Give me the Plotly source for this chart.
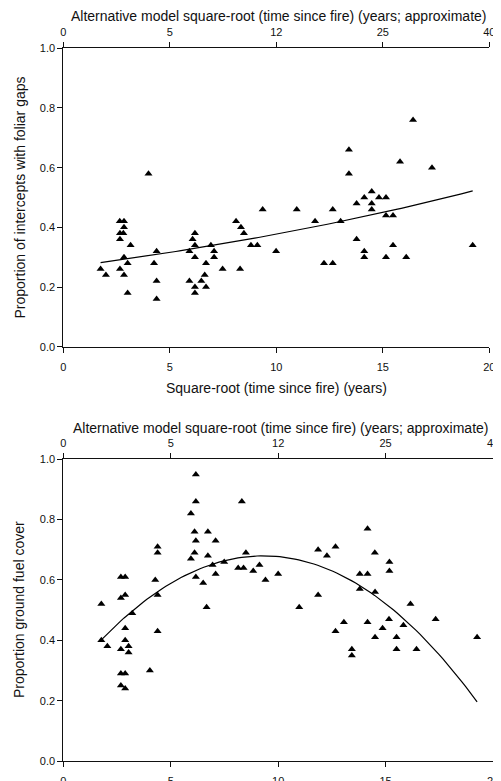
import numpy as np
import plotly.graph_objects as go

# ---------------- data ----------------
top_x = [4.0, 2.65, 2.85, 2.85, 2.66, 2.82, 2.66, 3.16, 2.85, 3.02, 1.75, 2.0, 2.66, 2.85, 3.02,
         4.38, 4.26, 4.38, 4.38, 6.18, 6.07, 6.18, 5.92, 6.18, 5.92, 6.18, 6.18, 6.48, 6.64, 6.70,
         6.70, 6.93, 7.08, 7.08, 7.48, 8.30, 8.11, 8.34, 8.48, 8.81, 9.11, 9.36, 9.99, 10.96, 11.82,
         12.24, 12.65, 12.65, 13.02, 13.41, 13.41, 13.77, 14.13, 14.48, 14.48, 14.48, 14.82, 15.15,
         15.15, 15.48, 13.77, 14.13, 14.13, 15.15, 15.48, 16.10, 15.81, 16.42, 17.31, 19.22]
top_y = [0.58, 0.42, 0.42, 0.40, 0.38, 0.38, 0.36, 0.34, 0.30, 0.28, 0.26, 0.24, 0.26, 0.24, 0.18,
         0.32, 0.28, 0.22, 0.16, 0.38, 0.36, 0.34, 0.32, 0.30, 0.22, 0.20, 0.18, 0.22, 0.24, 0.20,
         0.28, 0.34, 0.32, 0.30, 0.26, 0.26, 0.42, 0.40, 0.38, 0.34, 0.34, 0.46, 0.32, 0.46, 0.42,
         0.28, 0.28, 0.46, 0.42, 0.66, 0.58, 0.48, 0.50, 0.52, 0.48, 0.46, 0.50, 0.50,
         0.44, 0.44, 0.36, 0.32, 0.30, 0.30, 0.34, 0.30, 0.62, 0.76, 0.60, 0.34]

# top model: exponential curve y = exp(c0 + c1*x), drawn over observed x range
top_fit_c0 = -1.3285
top_fit_c1 = 0.0353
top_fit_range = [1.75, 19.22]

bot_x = [6.17, 6.17, 8.31, 5.94, 6.11, 6.73, 6.17, 7.09, 4.39, 4.39, 6.11, 5.94, 6.73, 8.50,
         6.95, 7.49, 8.14, 8.39, 8.84, 9.13, 9.41, 10.0, 7.09, 6.17, 6.51, 6.67, 2.68, 2.88,
         4.28, 2.88, 2.68, 4.39, 1.77, 3.21, 2.88, 4.39, 1.77, 2.88, 2.05, 3.04, 2.68, 3.04,
         2.68, 2.88, 2.68, 2.88, 4.03, 10.98, 11.86, 12.67, 13.06, 13.43, 13.43, 13.80, 14.16,
         14.51, 14.51, 14.86, 15.16, 15.51, 15.51, 15.83, 16.16, 16.44, 17.33, 19.26, 11.86,
         12.67, 12.27, 14.16, 13.80, 14.16, 14.50, 15.18, 15.18]
bot_y = [0.95, 0.86, 0.86, 0.82, 0.76, 0.76, 0.73, 0.73, 0.71, 0.69, 0.69, 0.67, 0.68, 0.69,
         0.65, 0.66, 0.64, 0.64, 0.63, 0.65, 0.60, 0.62, 0.62, 0.61, 0.59, 0.51, 0.61, 0.61,
         0.60, 0.55, 0.54, 0.55, 0.52, 0.49, 0.44, 0.43, 0.40, 0.40, 0.38, 0.38, 0.37, 0.36,
         0.29, 0.29, 0.25, 0.24, 0.30, 0.51, 0.55, 0.43, 0.46, 0.37, 0.35, 0.57, 0.46,
         0.56, 0.41, 0.44, 0.47, 0.41, 0.37, 0.45, 0.52, 0.37, 0.47, 0.41, 0.70,
         0.71, 0.68, 0.77, 0.62, 0.62, 0.69, 0.66, 0.63]

# bottom model: quadratic y = a*x^2 + b*x + c
bot_fit_a = -0.00489
bot_fit_b = 0.0911
bot_fit_c = 0.2556
bot_fit_range = [1.77, 19.26]

x_tickvals = [0, 5, 10, 15, 20]
x_ticktext = ["0", "5", "10", "15", "20"]
alt_ticktext = ["0", "5", "12", "25", "40"]
y_tickvals = [0.0, 0.2, 0.4, 0.6, 0.8, 1.0]

top_title = "Alternative model square-root (time since fire) (years; approximate)"
x_title = "Square-root (time since fire) (years)"
y1_title = "Proportion of intercepts with foliar gaps"
y2_title = "Proportion ground fuel cover"

# ---------------- figure ----------------
W, H = 501, 781
OFF = 8  # page body margin in the browser; target positions below are window pixels
# plot area in window pixels
AX_L, AX_R, AX_T, AX_B = 63, 493, 48, 761
ML, MT = AX_L - OFF, AX_T - OFF
MR, MB = W - (AX_R - OFF), H - (AX_B - OFF)
PW, PH = W - ML - MR, H - MT - MB
FONT = "Liberation Sans, Arial, sans-serif"
INK = "#111111"


def px_x(p):
    return (p - OFF - ML) / PW


def px_y(p):
    return (H - MB - (p - OFF)) / PH


def clamp(d):
    return [max(0.0, min(1.0, v)) for v in d]


fx1 = np.linspace(top_fit_range[0], top_fit_range[1], 100)
fy1 = np.exp(top_fit_c0 + top_fit_c1 * fx1)
fx2 = np.linspace(bot_fit_range[0], bot_fit_range[1], 100)
fy2 = bot_fit_a * fx2 ** 2 + bot_fit_b * fx2 + bot_fit_c

marker = dict(symbol="triangle-up", size=7, color="black", line=dict(width=0))

fig = go.Figure()
fig.add_trace(go.Scatter(x=top_x, y=top_y, mode="markers", marker=marker,
                         xaxis="x", yaxis="y", showlegend=False))
fig.add_trace(go.Scatter(x=fx1, y=fy1, mode="lines", line=dict(color="black", width=1.2),
                         xaxis="x", yaxis="y", showlegend=False))
fig.add_trace(go.Scatter(x=[None], y=[None], xaxis="x2", yaxis="y", showlegend=False,
                         hoverinfo="skip"))
fig.add_trace(go.Scatter(x=bot_x, y=bot_y, mode="markers", marker=marker,
                         xaxis="x3", yaxis="y2", showlegend=False))
fig.add_trace(go.Scatter(x=fx2, y=fy2, mode="lines", line=dict(color="black", width=1.2),
                         xaxis="x3", yaxis="y2", showlegend=False))
fig.add_trace(go.Scatter(x=[None], y=[None], xaxis="x4", yaxis="y2", showlegend=False,
                         hoverinfo="skip"))

common_axis = dict(showline=True, linecolor=INK, linewidth=1, ticks="outside", ticklen=5,
                   tickwidth=1, tickcolor=INK, showgrid=False, zeroline=False,
                   automargin=False,
                   tickfont=dict(family=FONT, size=11, color=INK), mirror=False)

top_dom_x = clamp([px_x(63.3), px_x(489.3)])
top_dom_y = clamp([px_y(346.7), px_y(48.3)])
bot_dom_x = clamp([px_x(63.3), px_x(493.0)])
bot_dom_y = clamp([px_y(761.0), px_y(459.3)])

fig.update_layout(
    width=W, height=H,
    margin=dict(l=ML, r=MR, t=MT, b=MB, pad=0),
    paper_bgcolor="white", plot_bgcolor="white",
    font=dict(family=FONT, color=INK),
    xaxis=dict(domain=top_dom_x, anchor="y", range=[0, 20], tickvals=x_tickvals,
               ticktext=x_ticktext, ticklabelstandoff=5, **common_axis),
    xaxis2=dict(domain=top_dom_x, anchor="y", overlaying="x", side="top", range=[0, 20],
                tickvals=x_tickvals, ticktext=alt_ticktext, ticklabelstandoff=2, **common_axis),
    yaxis=dict(domain=top_dom_y, anchor="x", range=[0, 1], tickvals=y_tickvals,
               tickformat=".1f", **common_axis),
    xaxis3=dict(domain=bot_dom_x, anchor="y2", range=[0, 20], tickvals=x_tickvals,
                ticktext=x_ticktext, ticklabelstandoff=5, **common_axis),
    xaxis4=dict(domain=bot_dom_x, anchor="y2", overlaying="x3", side="top", range=[0, 20],
                tickvals=x_tickvals, ticktext=alt_ticktext, ticklabelstandoff=2, **common_axis),
    yaxis2=dict(domain=bot_dom_y, anchor="x3", range=[0, 1], tickvals=y_tickvals,
                tickformat=".1f", **common_axis),
)

title_font = dict(family=FONT, size=14, color=INK)
ann = [
    dict(text=top_title, x=px_x(278.5), y=px_y(16.5)),
    dict(text=x_title, x=px_x(276.3), y=px_y(388.0)),
    dict(text=y1_title, x=px_x(19.0), y=px_y(197.5), textangle=-90),
    dict(text=top_title, x=px_x(280.5), y=px_y(428.0)),
    dict(text=y2_title, x=px_x(19.0), y=px_y(610.0), textangle=-90),
]
for a in ann:
    fig.add_annotation(xref="paper", yref="paper", showarrow=False, font=title_font,
                       xanchor="center", yanchor="middle", **a)

fig.write_html("out.html")
